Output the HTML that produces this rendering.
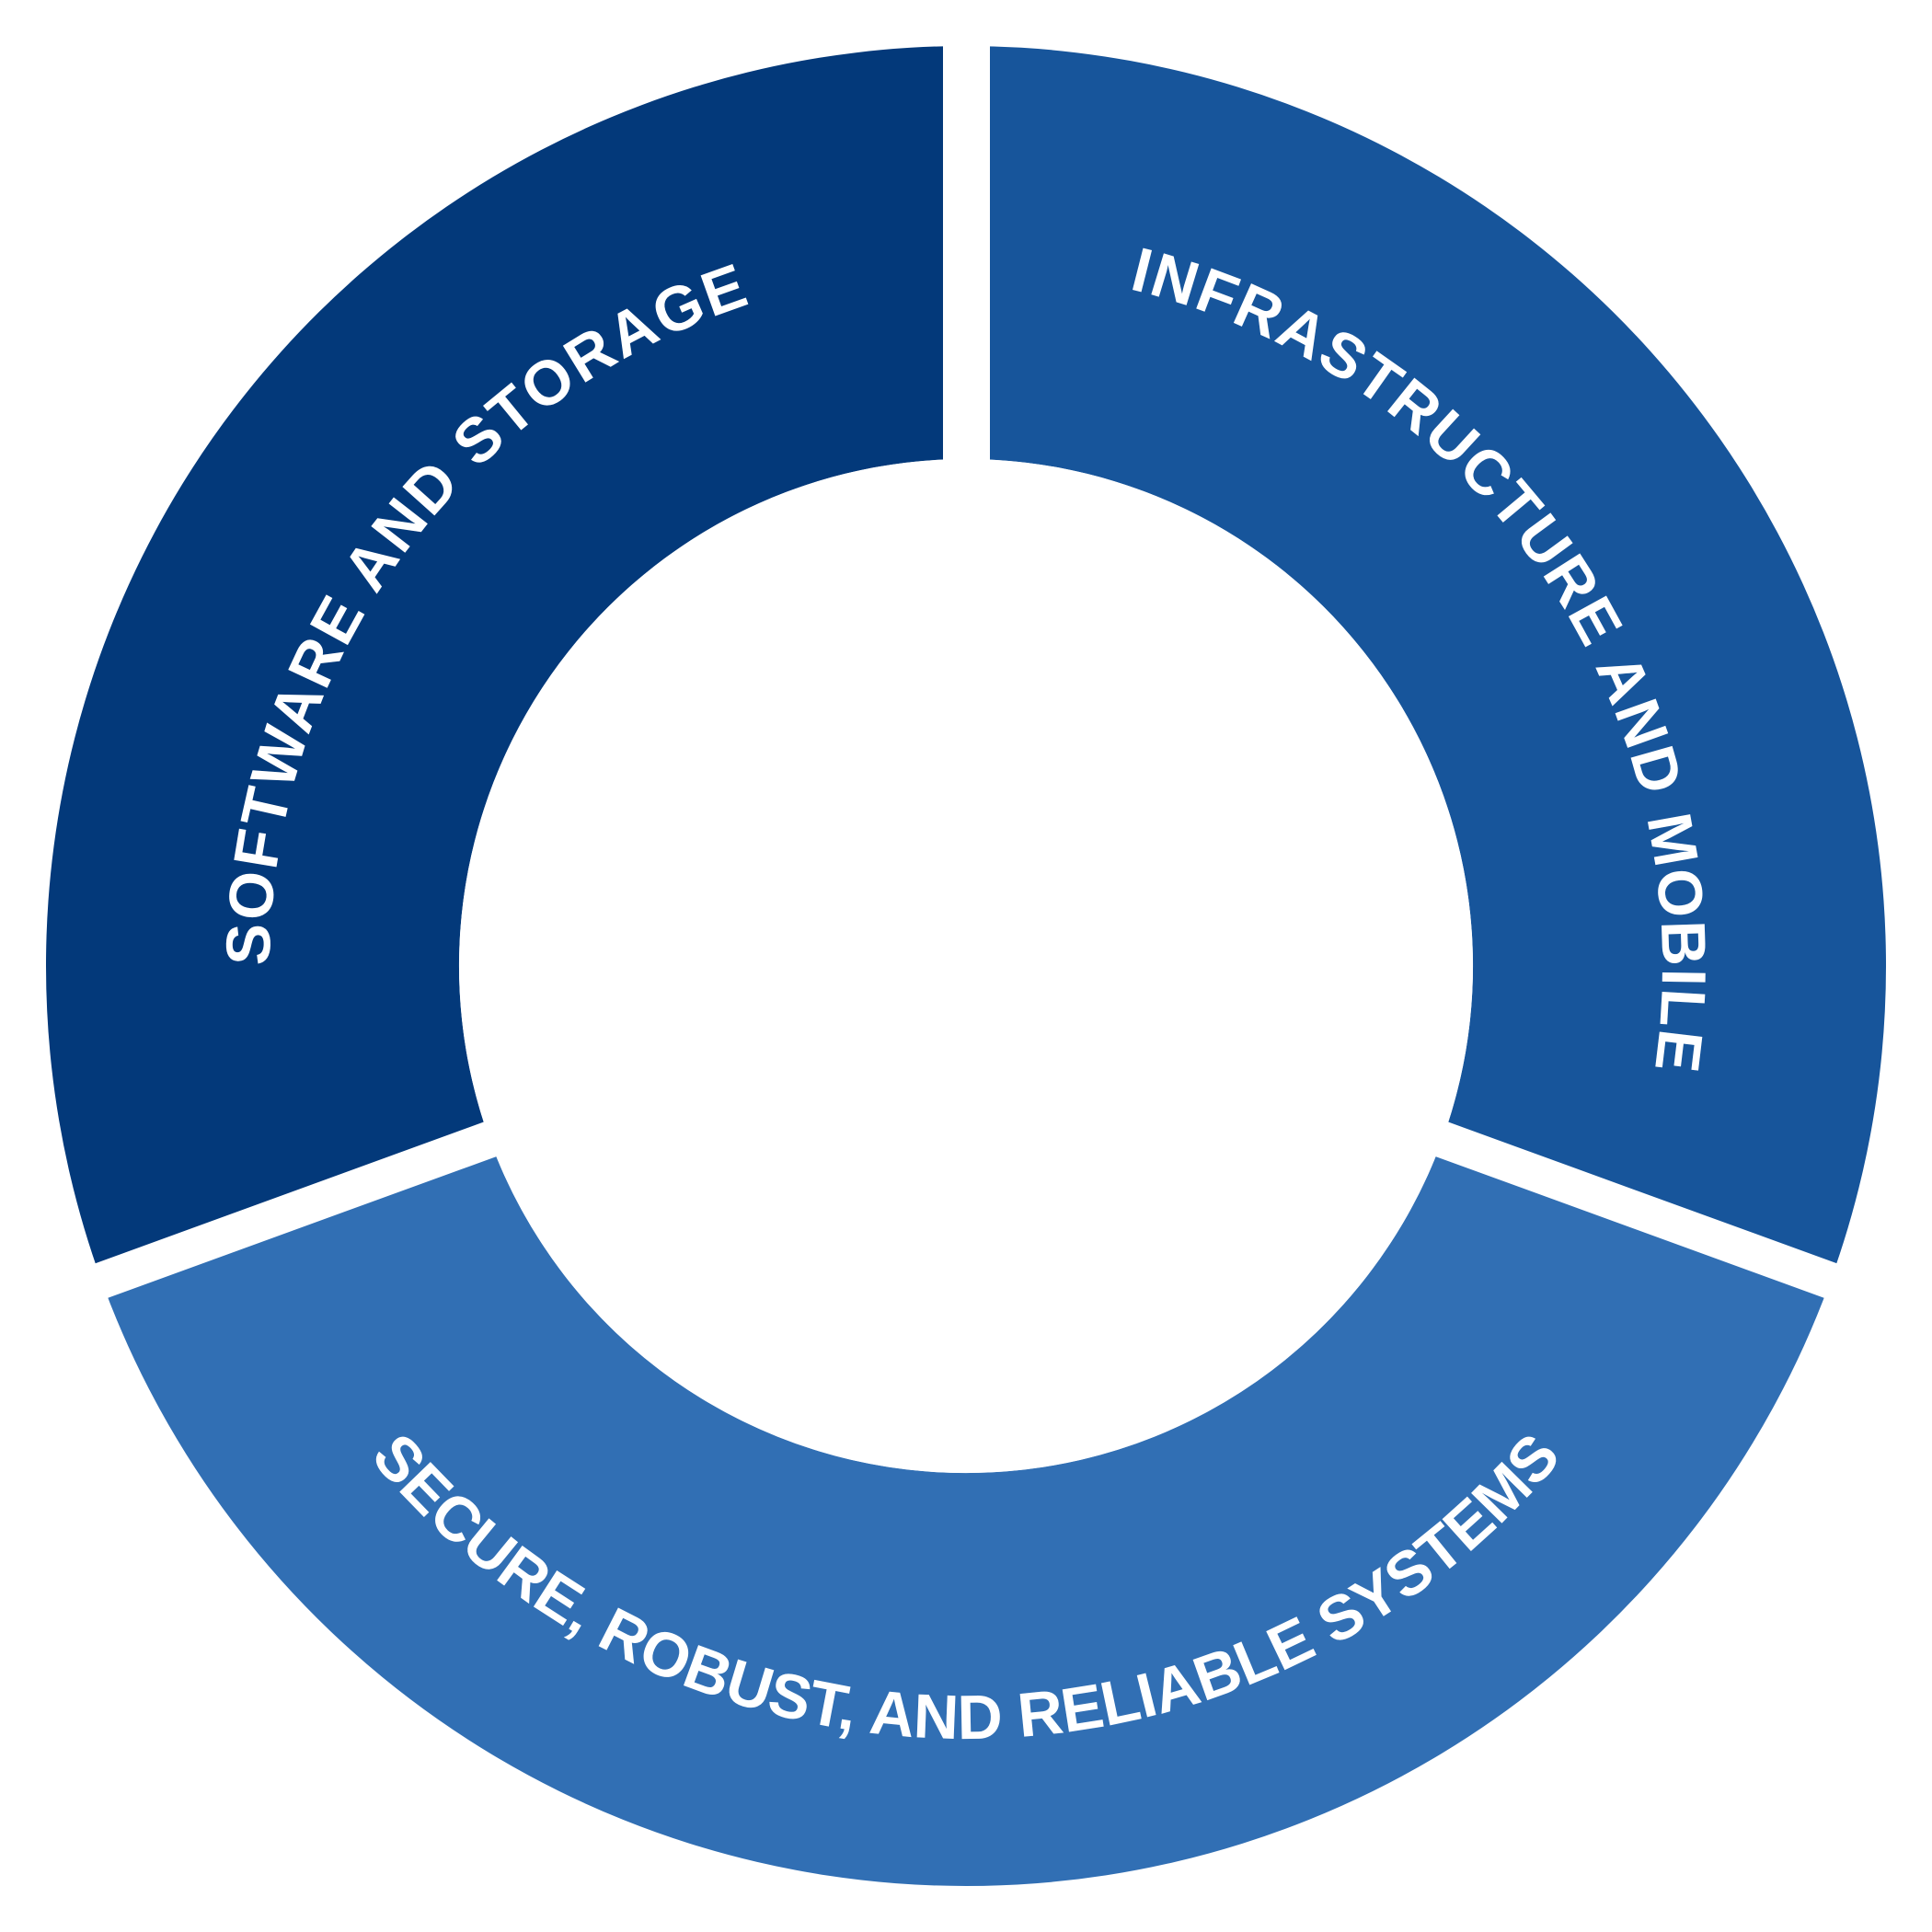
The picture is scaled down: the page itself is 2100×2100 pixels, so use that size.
<!DOCTYPE html>
<html><head><meta charset="utf-8"><style>html,body{margin:0;padding:0;background:#fff}svg{display:block}</style></head>
<body>
<svg width="2100" height="2100" viewBox="0 0 2100 2100" xmlns="http://www.w3.org/2000/svg">
<defs>
<path id="pL" d="M422.4,1473.3 A757,757 0 0 1 1258.6,322.3"/>
<path id="pR" d="M866.9,315.5 A757,757 0 0 1 1662.4,1495.0"/>
<path id="pB" d="M260.7,1337.3 A840,840 0 0 0 1839.3,1337.3"/>
</defs>
<path d="M1050,50 A1000,1000 0 0 0 110.3,1392 L532.2,1238.5 A551,551 0 0 1 1050,499 Z" fill="#03397a"/>
<path d="M1050,50 A1000,1000 0 0 1 1989.7,1392 L1567.8,1238.5 A551,551 0 0 0 1050,499 Z" fill="#17559b"/>
<path d="M110.3,1392 A1000,1000 0 0 0 1989.7,1392 L1567.8,1238.5 A551,551 0 0 1 532.2,1238.5 Z" fill="#316fb4"/>
<rect x="1025" y="0" width="51" height="1050" fill="#fff"/>
<line x1="1050" y1="1050" x2="0" y2="1432.2" stroke="#fff" stroke-width="40"/>
<line x1="1050" y1="1050" x2="2100" y2="1432.2" stroke="#fff" stroke-width="40"/>
<circle cx="1050" cy="1050" r="551" fill="#fff"/>
<g font-family="Liberation Sans, sans-serif" font-weight="bold" font-size="68" fill="#fff">
<text><textPath href="#pL" startOffset="50%" text-anchor="middle" textLength="951" lengthAdjust="spacing">SOFTWARE AND STORAGE</textPath></text>
<text><textPath href="#pR" startOffset="50%" text-anchor="middle" textLength="1123" lengthAdjust="spacing">INFRASTRUCTURE AND MOBILE</textPath></text>
<text><textPath href="#pB" startOffset="50%" text-anchor="middle" textLength="1481" lengthAdjust="spacing">SECURE, ROBUST, AND RELIABLE SYSTEMS</textPath></text>
</g>
</svg>
</body></html>
